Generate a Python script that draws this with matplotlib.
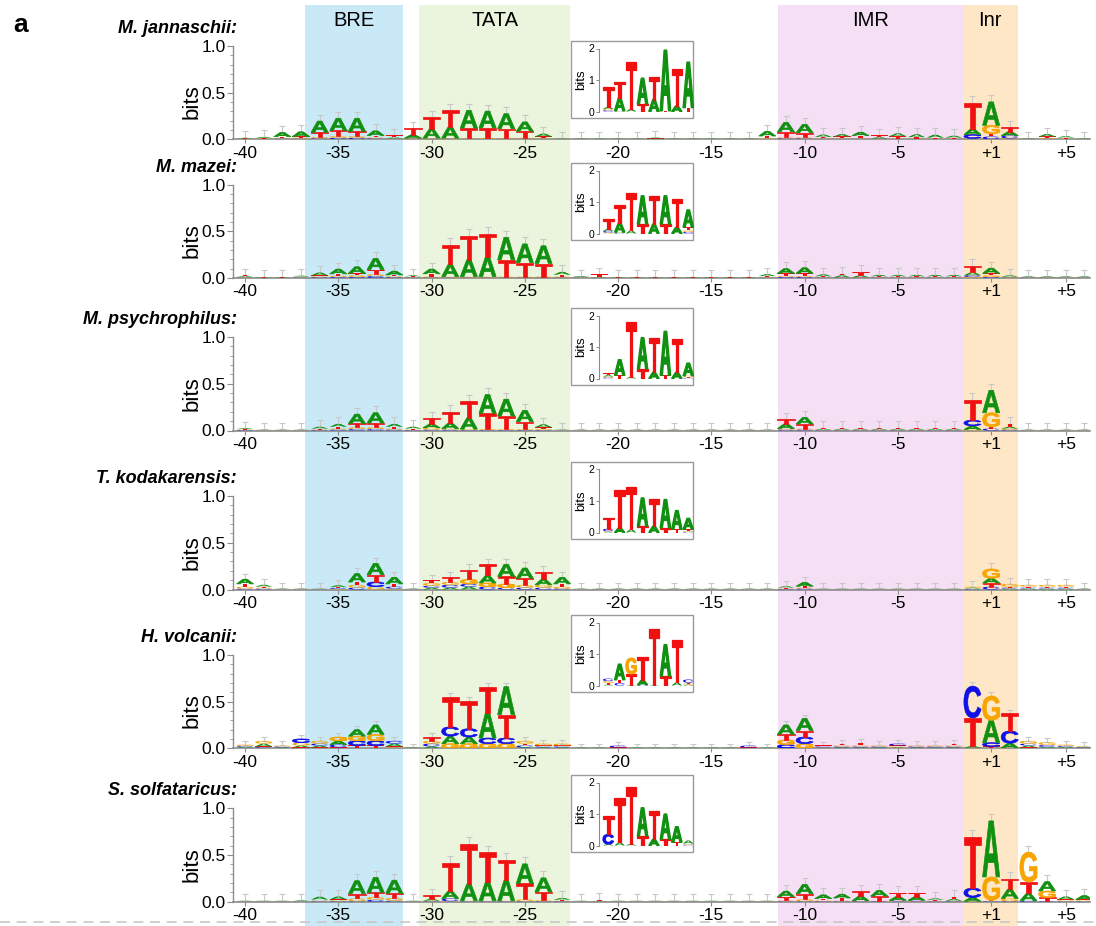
import numpy as np
import matplotlib
matplotlib.use("Agg")
import matplotlib.pyplot as plt
from matplotlib.textpath import TextPath
from matplotlib.font_manager import FontProperties
from matplotlib.patches import PathPatch, Rectangle
import matplotlib.transforms as mtransforms
from matplotlib.ticker import MultipleLocator, FixedLocator

plt.rcParams['font.family'] = ['Liberation Sans', 'DejaVu Sans']

# ---------------- data ----------------
species = ["M. jannaschii:", "M. mazei:", "M. psychrophilus:",
           "T. kodakarensis:", "H. volcanii:", "S. solfataricus:"]
pos_ticks = [0, 5, 10, 15, 20, 25, 30, 35, 40, 44]
pos_labels = ['-40', '-35', '-30', '-25', '-20', '-15', '-10', '-5', '+1', '+5']
regions = ["BRE", "TATA", "IMR", "Inr"]
region_start = [3.22, 9.33, 28.58, 38.48]
region_end = [8.46, 17.43, 38.48, 41.43]
region_colors = ["#c9e9f7", "#ebf4dc", "#f5dff5", "#fde7c6"]

t0 = (0.004, 0.002, 0.002, 0.003)   # nearly empty column
# columns: (A, C, G, T) information in bits, positions -40..-1, +1..+6
logo_jannaschii = [
    (0.006, 0.003, 0.003, 0.004), (0.012, 0.003, 0.004, 0.006), (0.045, 0.008, 0.008, 0.012),
    (0.05, 0.008, 0.01, 0.012), (0.12, 0.01, 0.015, 0.05), (0.13, 0.015, 0.02, 0.06),
    (0.14, 0.015, 0.02, 0.05), (0.05, 0.01, 0.01, 0.02), (0.01, 0.005, 0.005, 0.022),
    (0.035, 0.005, 0.008, 0.07), (0.1, 0.005, 0.008, 0.125), (0.12, 0.005, 0.008, 0.18),
    (0.19, 0.004, 0.006, 0.11), (0.18, 0.004, 0.008, 0.11), (0.16, 0.006, 0.008, 0.1),
    (0.1, 0.006, 0.01, 0.07), (0.03, 0.004, 0.006, 0.02), t0,
    t0, t0, t0, t0, (0.01, 0.003, 0.003, 0.003), t0,
    t0, t0, t0, t0, (0.05, 0.005, 0.01, 0.02),
    (0.1, 0.01, 0.01, 0.06), (0.09, 0.01, 0.01, 0.05), (0.025, 0.005, 0.005, 0.015),
    (0.025, 0.005, 0.005, 0.02), (0.035, 0.005, 0.005, 0.03), (0.015, 0.004, 0.004, 0.02),
    (0.03, 0.004, 0.004, 0.025), (0.03, 0.004, 0.004, 0.015), (0.03, 0.004, 0.004, 0.01),
    (0.02, 0.004, 0.004, 0.01), (0.06, 0.04, 0.01, 0.28), (0.25, 0.03, 0.09, 0.03),
    (0.04, 0.03, 0.01, 0.05), t0, (0.025, 0.005, 0.01, 0.015),
    (0.015, 0.003, 0.005, 0.01), t0,
]

logo_mazei = [
    (0.01, 0.005, 0.005, 0.01), t0, t0, (0.01, 0.005, 0.005, 0.005), (0.03, 0.008, 0.01, 0.01),
    (0.05, 0.01, 0.015, 0.02), (0.07, 0.01, 0.02, 0.02), (0.12, 0.02, 0.02, 0.05),
    (0.04, 0.008, 0.01, 0.015), (0.01, 0.005, 0.005, 0.008), (0.05, 0.005, 0.01, 0.03),
    (0.13, 0.005, 0.01, 0.21), (0.18, 0.005, 0.01, 0.26), (0.21, 0.005, 0.01, 0.25),
    (0.24, 0.005, 0.01, 0.18), (0.2, 0.005, 0.01, 0.15), (0.19, 0.005, 0.01, 0.14),
    (0.03, 0.005, 0.01, 0.02), (0.01, 0.003, 0.003, 0.005), (0.005, 0.003, 0.003, 0.03),
    t0, t0, t0, t0, t0, t0, t0, t0,
    (0.02, 0.005, 0.005, 0.01), (0.05, 0.01, 0.01, 0.03), (0.06, 0.01, 0.01, 0.03),
    (0.02, 0.004, 0.004, 0.01), (0.02, 0.004, 0.004, 0.02), (0.02, 0.004, 0.004, 0.04),
    (0.015, 0.004, 0.004, 0.01), (0.015, 0.004, 0.004, 0.01), (0.015, 0.004, 0.004, 0.01),
    (0.015, 0.004, 0.004, 0.01), (0.015, 0.004, 0.004, 0.01), (0.03, 0.02, 0.01, 0.07),
    (0.055, 0.01, 0.02, 0.02), (0.015, 0.004, 0.004, 0.005), (0.008, 0.003, 0.003, 0.003),
    (0.008, 0.003, 0.003, 0.003), (0.008, 0.003, 0.003, 0.003), (0.008, 0.003, 0.003, 0.003),
]

logo_psychrophilus = [
    (0.01, 0.005, 0.005, 0.005), t0, t0, t0, (0.02, 0.005, 0.005, 0.01),
    (0.03, 0.01, 0.01, 0.02), (0.1, 0.015, 0.02, 0.04), (0.11, 0.015, 0.02, 0.045),
    (0.03, 0.01, 0.01, 0.02), (0.02, 0.005, 0.005, 0.01), (0.04, 0.01, 0.02, 0.06),
    (0.06, 0.01, 0.01, 0.12), (0.12, 0.005, 0.01, 0.18), (0.2, 0.005, 0.01, 0.17),
    (0.18, 0.005, 0.01, 0.14), (0.12, 0.005, 0.01, 0.08), (0.03, 0.005, 0.01, 0.02),
    t0, t0, t0, t0, t0, t0, t0, t0, t0, t0, t0, t0,
    (0.05, 0.01, 0.01, 0.05), (0.07, 0.01, 0.01, 0.05), (0.01, 0.004, 0.004, 0.01),
    (0.01, 0.004, 0.004, 0.01), (0.01, 0.004, 0.004, 0.01), (0.01, 0.004, 0.004, 0.01),
    (0.01, 0.004, 0.004, 0.01), (0.01, 0.004, 0.004, 0.01), (0.01, 0.004, 0.004, 0.01),
    (0.01, 0.004, 0.004, 0.01), (0.04, 0.06, 0.01, 0.22), (0.24, 0.02, 0.15, 0.02),
    (0.02, 0.01, 0.01, 0.03), t0, t0, t0, t0,
]

logo_kodakarensis = [
    (0.05, 0.01, 0.02, 0.03), (0.02, 0.01, 0.01, 0.01), t0, t0, t0,
    (0.02, 0.01, 0.005, 0.01), (0.09, 0.02, 0.03, 0.03), (0.12, 0.05, 0.03, 0.08),
    (0.07, 0.02, 0.01, 0.03), t0, (0.02, 0.02, 0.03, 0.03),
    (0.02, 0.03, 0.03, 0.05), (0.03, 0.03, 0.05, 0.1), (0.08, 0.03, 0.04, 0.12),
    (0.13, 0.02, 0.04, 0.08), (0.11, 0.02, 0.03, 0.07), (0.06, 0.02, 0.03, 0.08),
    (0.07, 0.01, 0.02, 0.03), t0, t0, t0, t0, t0, t0, t0, t0, t0, t0, t0,
    (0.015, 0.005, 0.005, 0.01), (0.04, 0.01, 0.01, 0.015), t0, t0, t0, t0, t0, t0, t0, t0,
    (0.01, 0.005, 0.01, 0.005), (0.05, 0.03, 0.1, 0.04), (0.01, 0.01, 0.03, 0.01),
    (0.01, 0.01, 0.02, 0.01), (0.01, 0.01, 0.02, 0.01), (0.01, 0.01, 0.02, 0.01), t0,
]

logo_volcanii = [
    (0.01, 0.01, 0.015, 0.005), (0.03, 0.01, 0.03, 0.01), (0.01, 0.01, 0.01, 0.01),
    (0.02, 0.04, 0.03, 0.01), (0.02, 0.02, 0.03, 0.01), (0.04, 0.03, 0.04, 0.01),
    (0.07, 0.05, 0.05, 0.03), (0.1, 0.05, 0.07, 0.03), (0.03, 0.03, 0.01, 0.01),
    t0, (0.02, 0.03, 0.03, 0.04), (0.08, 0.1, 0.05, 0.32), (0.07, 0.09, 0.05, 0.3),
    (0.27, 0.06, 0.05, 0.28), (0.3, 0.06, 0.05, 0.25), (0.01, 0.02, 0.03, 0.02),
    (0.01, 0.01, 0.02, 0.01), (0.01, 0.01, 0.02, 0.01), t0, t0,
    (0.003, 0.02, 0.003, 0.003), t0, t0, t0, t0, t0, t0,
    (0.003, 0.02, 0.003, 0.003), t0, (0.1, 0.04, 0.05, 0.06), (0.13, 0.07, 0.05, 0.07),
    (0.005, 0.01, 0.005, 0.01), (0.01, 0.01, 0.01, 0.015), (0.01, 0.01, 0.01, 0.03),
    (0.01, 0.01, 0.01, 0.01), (0.01, 0.02, 0.01, 0.01), (0.01, 0.01, 0.01, 0.01),
    (0.01, 0.01, 0.01, 0.01), (0.01, 0.01, 0.01, 0.015), (0.02, 0.34, 0.005, 0.3),
    (0.24, 0.04, 0.26, 0.02), (0.05, 0.13, 0.005, 0.19), (0.02, 0.02, 0.03, 0.01),
    (0.01, 0.02, 0.03, 0.005), (0.01, 0.01, 0.015, 0.005), (0.005, 0.005, 0.01, 0.003),
]

logo_solfataricus = [
    t0, t0, t0, (0.008, 0.002, 0.002, 0.002), (0.03, 0.005, 0.008, 0.01),
    (0.03, 0.005, 0.01, 0.01), (0.14, 0.005, 0.03, 0.05), (0.16, 0.02, 0.03, 0.05),
    (0.14, 0.01, 0.03, 0.05), t0, (0.02, 0.005, 0.005, 0.04), (0.08, 0.03, 0.005, 0.3),
    (0.18, 0.005, 0.005, 0.43), (0.2, 0.005, 0.005, 0.32), (0.22, 0.005, 0.005, 0.22),
    (0.21, 0.005, 0.02, 0.17), (0.15, 0.005, 0.01, 0.09), (0.02, 0.005, 0.005, 0.01),
    t0, (0.003, 0.002, 0.002, 0.015), t0, t0, t0, t0, t0, t0, t0, t0, t0,
    (0.06, 0.005, 0.008, 0.04), (0.1, 0.005, 0.02, 0.06), (0.04, 0.005, 0.008, 0.02),
    (0.04, 0.005, 0.005, 0.03), (0.05, 0.005, 0.005, 0.05), (0.06, 0.005, 0.005, 0.05),
    (0.04, 0.01, 0.005, 0.04), (0.04, 0.01, 0.005, 0.04), (0.015, 0.005, 0.005, 0.01),
    (0.02, 0.005, 0.005, 0.02), (0.04, 0.1, 0.005, 0.55), (0.6, 0.005, 0.25, 0.01),
    (0.1, 0.005, 0.03, 0.11), (0.08, 0.01, 0.32, 0.12), (0.1, 0.005, 0.07, 0.04),
    (0.03, 0.005, 0.01, 0.01), (0.04, 0.005, 0.01, 0.01),
]

logos = [logo_jannaschii, logo_mazei, logo_psychrophilus,
         logo_kodakarensis, logo_volcanii, logo_solfataricus]
errs = [0.07, 0.07, 0.07, 0.06, 0.04, 0.07]

# TATA-box inset logos (A, C, G, T), 8 positions each
inset_jannaschii = [(0.07, 0.04, 0.04, 0.63), (0.42, 0.01, 0.01, 0.5), (0.08, 0.0, 0.0, 1.49),
                    (0.82, 0.0, 0.0, 0.24), (0.38, 0.0, 0.0, 0.72), (1.93, 0.0, 0.0, 0.02),
                    (0.18, 0.0, 0.0, 1.18), (1.45, 0.0, 0.0, 0.12)]
inset_mazei = [(0.07, 0.05, 0.03, 0.3), (0.3, 0.02, 0.02, 0.55), (0.1, 0.0, 0.0, 1.2),
               (0.9, 0.0, 0.0, 0.3), (0.3, 0.0, 0.0, 0.9), (0.9, 0.0, 0.0, 0.3),
               (0.2, 0.0, 0.0, 0.9), (0.55, 0.05, 0.05, 0.1)]
inset_psychrophilus = [(0.05, 0.03, 0.03, 0.05), (0.5, 0.0, 0.0, 0.1), (0.05, 0.0, 0.0, 1.75),
                       (1.0, 0.0, 0.0, 0.3), (0.2, 0.0, 0.0, 1.1), (1.4, 0.0, 0.0, 0.1),
                       (0.2, 0.0, 0.0, 1.05), (0.4, 0.02, 0.05, 0.02)]
inset_kodakarensis = [(0.02, 0.08, 0.02, 0.35), (0.15, 0.0, 0.0, 1.2), (0.1, 0.0, 0.0, 1.35),
                      (0.9, 0.0, 0.0, 0.2), (0.2, 0.0, 0.0, 0.85), (0.9, 0.0, 0.0, 0.15),
                      (0.6, 0.0, 0.0, 0.1), (0.35, 0.02, 0.03, 0.05)]
inset_volcanii = [(0.03, 0.08, 0.06, 0.05), (0.5, 0.08, 0.0, 0.1), (0.02, 0.0, 0.5, 0.35),
                  (0.15, 0.02, 0.0, 0.75), (0.02, 0.0, 0.0, 1.78), (1.0, 0.0, 0.0, 0.3),
                  (0.1, 0.0, 0.0, 1.35), (0.03, 0.1, 0.03, 0.03)]
inset_solfataricus = [(0.05, 0.3, 0.0, 0.6), (0.1, 0.0, 0.0, 1.4), (0.05, 0.0, 0.0, 1.8),
                      (0.9, 0.0, 0.0, 0.3), (0.2, 0.0, 0.0, 0.9), (0.8, 0.0, 0.0, 0.2),
                      (0.5, 0.0, 0.0, 0.1), (0.1, 0.02, 0.02, 0.02)]
insets = [inset_jannaschii, inset_mazei, inset_psychrophilus,
          inset_kodakarensis, inset_volcanii, inset_solfataricus]

# ---------------- layout (pixels) ----------------
W, H = 1096, 926
fig = plt.figure(figsize=(W / 100, H / 100), dpi=100)
baseline_px = [139.3, 278.0, 430.5, 589.5, 748.3, 901.7]
unit_px = 93.4
ax_left_px, ax_right_px = 233.3, 1090.0
xlim = (-0.63, 45.3)
inset_box_top = [41, 163, 308, 462, 615, 775]
inset_box_h = 77

COLORS = {'A': '#109010', 'C': '#1010e8', 'G': '#f8a400', 'T': '#f01010'}
fp = FontProperties(family='Liberation Sans', weight='bold')
GLY = {}
for L in 'ACGT':
    p = TextPath((0, 0), L, size=1, prop=fp)
    GLY[L] = (p, p.get_extents())


def draw_letter(ax, L, x, y, w, h, lw):
    p, e = GLY[L]
    t = (mtransforms.Affine2D().translate(-e.x0, -e.y0)
         .scale(w / e.width, h / e.height).translate(x - w / 2, y))
    ax.add_patch(PathPatch(t.transform_path(p), fc=COLORS[L], ec=COLORS[L],
                           lw=lw, zorder=3))


def draw_logo(ax, data, width, lw, hmin):
    tops = []
    for i, col in enumerate(data):
        items = sorted(zip('ACGT', col), key=lambda t: t[1])
        y = 0.0
        for L, h in items:
            if h > 0.0015:
                draw_letter(ax, L, i, y, width, h, lw if h > hmin else 0)
                y += h
        tops.append(y)
    return np.array(tops)


def fx(px):
    return px / W


def fy(py):
    return 1 - py / H


axes = []
for r in range(6):
    b = baseline_px[r]
    ax = fig.add_axes([fx(ax_left_px), fy(b), (ax_right_px - ax_left_px) / W, unit_px / H])
    ax.set_facecolor('none')
    ax.set_xlim(*xlim)
    ax.set_ylim(0, 1.0)
    for s in ['top', 'right']:
        ax.spines[s].set_visible(False)
    ax.spines['left'].set_color('#8c8c8c')
    ax.spines['bottom'].set_color('#8c8c8c')
    ax.spines['left'].set_linewidth(1.0)
    ax.spines['bottom'].set_linewidth(1.2)
    ax.yaxis.set_major_locator(FixedLocator([0, 0.5, 1.0]))
    ax.yaxis.set_minor_locator(MultipleLocator(0.1))
    ax.set_yticklabels(['0.0', '0.5', '1.0'])
    ax.set_xticks(pos_ticks)
    ax.set_xticklabels(pos_labels)
    ax.tick_params(axis='y', which='major', length=4, width=0.8, color='#8c8c8c',
                   labelsize=12.5, pad=1.5)
    ax.tick_params(axis='y', which='minor', length=2.5, width=0.6, color='#8c8c8c')
    ax.tick_params(axis='x', length=3, width=0.8, color='#8c8c8c', labelsize=12.5, pad=1.5)
    ax.set_ylabel('bits', fontsize=16, va='center', ha='center')
    ax.yaxis.set_label_coords((192 - ax_left_px) / (ax_right_px - ax_left_px), 0.40)
    tops = draw_logo(ax, logos[r], 0.92, 0.5, 0.03)
    x = np.arange(len(tops))
    ax.errorbar(x, tops, yerr=[np.zeros_like(tops), np.full_like(tops, errs[r])],
                fmt='none', ecolor='#c8c8c8', elinewidth=0.8, capsize=2.2, capthick=0.8,
                zorder=2, clip_on=False)
    fig.text(fx(237), fy(b - unit_px - 17.5), species[r], ha='right', va='center',
             fontsize=13, fontweight='bold', fontstyle='italic')
    axes.append(ax)

    # inset
    bt = inset_box_top[r]
    fig.patches.append(Rectangle((fx(571), fy(bt + inset_box_h)), (693 - 571) / W, inset_box_h / H,
                                 transform=fig.transFigure, fc='white', ec='#9a9a9a',
                                 lw=1.0, zorder=5))
    iax = fig.add_axes([fx(599), fy(bt + inset_box_h - 6.5), (694 - 599) / W, 63.0 / H], zorder=6)
    iax.set_facecolor('none')
    iax.set_xlim(-0.81, 7.5)
    iax.set_ylim(0, 2)
    for s in ['top', 'right', 'bottom']:
        iax.spines[s].set_visible(False)
    iax.spines['left'].set_color('#8c8c8c')
    iax.spines['left'].set_linewidth(0.8)
    iax.set_xticks([])
    iax.set_yticks([0, 1, 2])
    iax.tick_params(axis='y', length=2.5, width=0.7, color='#8c8c8c', labelsize=7.5, pad=1)
    iax.set_ylabel('bits', fontsize=9.5, labelpad=1)
    draw_logo(iax, insets[r], 0.92, 0.9, 0.12)

# background bands (x in data coordinates of the logo axes)
btrans = mtransforms.blended_transform_factory(axes[0].transData, fig.transFigure)
for name, s, e, c in zip(regions, region_start, region_end, region_colors):
    fig.patches.append(Rectangle((s, 0), e - s, fy(5), transform=btrans,
                                 fc=c, ec='none', zorder=-10))
    fig.text((s + e) / 2, fy(21), name, transform=btrans, ha='center', va='center',
             fontsize=14.5)

fig.text(fx(21), fy(25), 'a', fontsize=19, fontweight='bold', ha='center', va='center')
fig.add_artist(plt.Line2D([0, 1], [fy(922), fy(922)], transform=fig.transFigure,
                          color='#c8c8c8', lw=1.2, ls=(0, (6, 4)), zorder=-5))

fig.savefig('out.png', dpi=100)
